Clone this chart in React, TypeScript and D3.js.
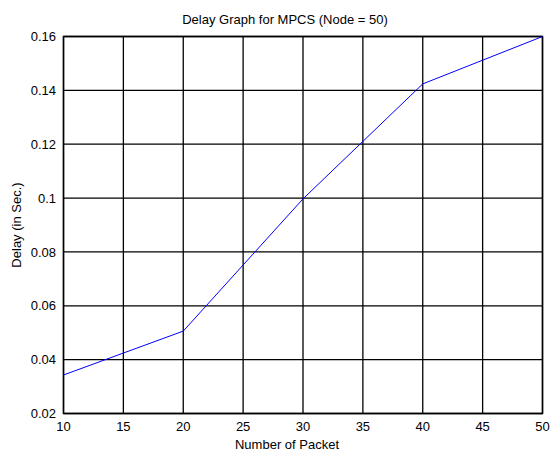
import React from "react";
import * as d3 from "d3";

const packets = [10, 20, 30, 40, 50];
const delay = [0.0343, 0.0506, 0.0997, 0.1424, 0.16];
const xTicks = [10, 15, 20, 25, 30, 35, 40, 45, 50];
const yTicks = [0.02, 0.04, 0.06, 0.08, 0.1, 0.12, 0.14, 0.16];
const title = "Delay Graph for MPCS (Node = 50)";
const xLabel = "Number of Packet";
const yLabel = "Delay (in Sec.)";

export default function App() {
  const W = 551, H = 452;
  const left = 63.5, right = 542.5, top = 36.5, bottom = 413.5;
  const x = d3.scaleLinear().domain([10, 50]).range([left, right]);
  const y = d3.scaleLinear().domain([0.02, 0.16]).range([bottom, top]);
  const line = d3.line<number>().x((_, i) => x(packets[i])).y((d) => y(d));
  const font = "'Liberation Sans', Arial, sans-serif";
  return (
    <svg width={W} height={H} style={{ position: "absolute", left: 0, top: 0, background: "#fff" }} fontFamily={font}>
      <rect x={0} y={0} width={W} height={H} fill="#fff" />
      {xTicks.map((t) => (
        <line key={"gx" + t} x1={x(t)} x2={x(t)} y1={top} y2={bottom} stroke="#000" strokeWidth={1.3} />
      ))}
      {yTicks.map((t) => (
        <line key={"gy" + t} x1={left} x2={right} y1={y(t)} y2={y(t)} stroke="#000" strokeWidth={1.3} />
      ))}
      <rect x={left} y={top} width={right - left} height={bottom - top} fill="none" stroke="#000" strokeWidth={1.5} />
      <path d={line(delay) || ""} fill="none" stroke="#0000ff" strokeWidth={1} />
      {xTicks.map((t) => (
        <text key={"tx" + t} x={x(t)} y={431} textAnchor="middle" fontSize={13} fill="#000">{t}</text>
      ))}
      {yTicks.map((t) => (
        <text key={"ty" + t} x={56} y={y(t) + 4.7} textAnchor="end" fontSize={13} fill="#000">{d3.format("~g")(t)}</text>
      ))}
      <text x={285} y={23.5} textAnchor="middle" fontSize={13} fill="#000">{title}</text>
      <text x={287} y={448.5} textAnchor="middle" fontSize={13} fill="#000">{xLabel}</text>
      <text transform={`translate(21, ${(top + bottom) / 2}) rotate(-90)`} textAnchor="middle" fontSize={13} fill="#000">{yLabel}</text>
    </svg>
  );
}
